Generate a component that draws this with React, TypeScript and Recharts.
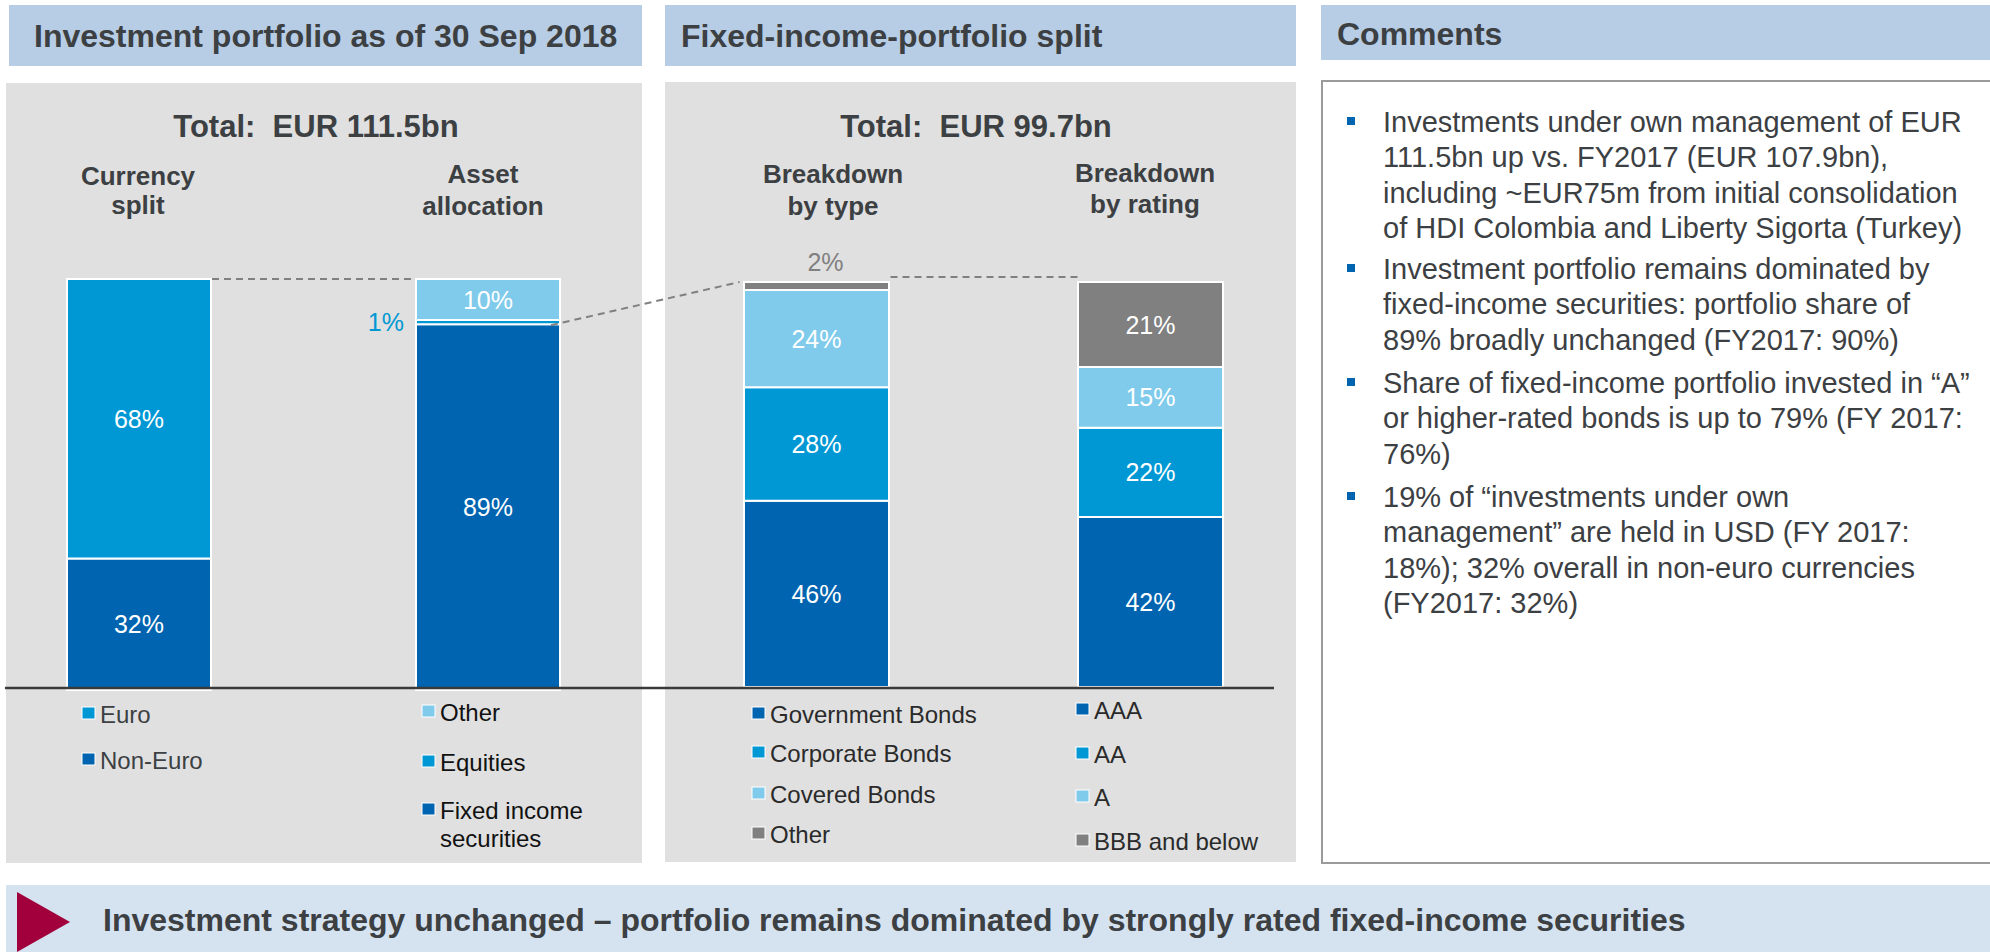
import React from 'react';
import { BarChart, Bar, XAxis, YAxis, LabelList } from 'recharts';

// categories (one stacked bar each)
const leftCategories = ['Currency split', 'Asset allocation'];
const rightCategories = ['Breakdown by type', 'Breakdown by rating'];

// stack layers listed bottom -> top, in %
const currencySplit = [32, 68]; // Non-Euro, Euro
const assetAllocation = [89, 1, 10]; // Fixed income, Equities, Other
const fixedIncomeByType = [46, 28, 24, 2]; // Government, Corporate, Covered, Other
const fixedIncomeByRating = [42, 22, 15, 21]; // AAA, AA, A, BBB and below

const totals = ['Total:  EUR 111.5bn', 'Total:  EUR 99.7bn'];

const currencyLegend = ['Euro', 'Non-Euro'];
const assetLegend = ['Other', 'Equities', 'Fixed income'];
const typeLegend = ['Government Bonds', 'Corporate Bonds', 'Covered Bonds', 'Other'];
const ratingLegend = ['AAA', 'AA', 'A', 'BBB and below'];

const layerColors = ['#0064b0', '#0098d4', '#80cbeb', '#808080'];
const layerKeys = ['l0', 'l1', 'l2', 'l3'];

const FONT = '"Liberation Sans", Arial, sans-serif';
const DARK = '#3c4043';

const toRows = (cats: string[], stacks: number[][]) =>
  cats.map((name, i) => {
    const row: any = { name };
    layerKeys.forEach((k, j) => (row[k] = stacks[i][j] ?? 0));
    return row;
  });

const leftData = toRows(leftCategories, [currencySplit, assetAllocation]);
const rightData = toRows(rightCategories, [fixedIncomeByType, fixedIncomeByRating]);

// chart geometry (page coords)
const c1 = { left: -36.5, band: 349, barSize: 144, top: 279, height: 411 };
const c2 = { left: 649, band: 334, barSize: 145, top: 282, height: 405 };
const PAD_TOP = 40;
const PAD_BOTTOM = 10;

const barLeft = (c: any, i: number) => c.left + c.band * i + (c.band - c.barSize) / 2;
const yAt = (c: any, v: number) => c.top + c.height * (1 - v / 100);
const sum = (a: number[], n: number) => a.slice(0, n).reduce((s, v) => s + v, 0);

const makeLabel = (layer: number) => (props: any) => {
  const { x, y, width, height, value } = props;
  if (!value) return null;
  const cx = x + width / 2;
  const cy = y + height / 2;
  if (value <= 2 && layer === 1) {
    // tiny equities slice: label to the left
    return (
      <text x={x - 12} y={cy} textAnchor="end" dominantBaseline="central" fill={layerColors[1]} fontSize={25} fontFamily={FONT}>
        {value}%
      </text>
    );
  }
  if (value <= 2) {
    return (
      <text x={cx + 9} y={y - 20} textAnchor="middle" dominantBaseline="central" fill="#808080" fontSize={25} fontFamily={FONT}>
        {value}%
      </text>
    );
  }
  return (
    <text x={cx} y={cy} textAnchor="middle" dominantBaseline="central" fill="#fff" fontSize={25} fontFamily={FONT}>
      {value}%
    </text>
  );
};

function StackChart({ data, c, layers }: { data: any[]; c: any; layers: number }) {
  return (
    <div style={{ position: 'absolute', left: c.left, top: c.top - PAD_TOP }}>
      <BarChart
        width={c.band * 2}
        height={c.height + PAD_TOP + PAD_BOTTOM}
        data={data}
        margin={{ top: PAD_TOP, right: 0, bottom: PAD_BOTTOM, left: 0 }}
        barSize={c.barSize}
      >
        <XAxis dataKey="name" hide />
        <YAxis hide domain={[0, 100]} />
        {layerKeys.slice(0, layers).map((k, j) => (
          <Bar key={k} dataKey={k} stackId="s" fill={layerColors[j]} stroke="#fff" strokeWidth={2} isAnimationActive={false}>
            <LabelList dataKey={k} content={makeLabel(j)} />
          </Bar>
        ))}
      </BarChart>
    </div>
  );
}

const T = (p: any) => <text fontFamily={FONT} fill={DARK} style={{ whiteSpace: 'pre' }} {...p} />;

function LegendItem({ x, y, color, label, fill }: any) {
  return (
    <g>
      <rect x={x} y={y - 16} width={13} height={12} fill={color} stroke="#fff" strokeWidth={1} />
      {label.map((l: string, i: number) => (
        <T key={i} x={x + 18} y={y + i * 28} fontSize={24} fill={fill}>
          {l}
        </T>
      ))}
    </g>
  );
}

const comments = [
  { y: 132, lines: ['Investments under own management of EUR', '111.5bn up vs. FY2017 (EUR 107.9bn),', 'including ~EUR75m from initial consolidation', 'of HDI Colombia and Liberty Sigorta (Turkey)'] },
  { y: 279, lines: ['Investment portfolio remains dominated by', 'fixed-income securities: portfolio share of', '89% broadly unchanged (FY2017: 90%)'] },
  { y: 393, lines: ['Share of fixed-income portfolio invested in \u201cA\u201d', 'or higher-rated bonds is up to 79% (FY 2017:', '76%)'] },
  { y: 507, lines: ['19% of \u201cinvestments under own', 'management\u201d are held in USD (FY 2017:', '18%); 32% overall in non-euro currencies', '(FY2017: 32%)'] },
];

export default function App() {
  const fiTop = yAt(c1, sum(assetAllocation, 1));
  return (
    <div style={{ position: 'absolute', left: 0, top: 0, width: 1990, height: 952, overflow: 'hidden', background: '#fff', fontFamily: FONT }}>
      <svg width={1990} height={952} style={{ position: 'absolute', left: 0, top: 0 }}>
        {/* headers */}
        <rect x={9} y={5} width={633} height={61} fill="#b7cde5" />
        <rect x={665} y={5} width={631} height={61} fill="#b7cde5" />
        <rect x={1321} y={5} width={669} height={55} fill="#b7cde5" />
        <T x={34} y={47} fontSize={32} fontWeight="bold">Investment portfolio as of 30 Sep 2018</T>
        <T x={681} y={47} fontSize={32} fontWeight="bold">Fixed-income-portfolio split</T>
        <T x={1337} y={45} fontSize={32} fontWeight="bold">Comments</T>

        {/* panels */}
        <rect x={6} y={83} width={636} height={780} fill="#e0e0e0" />
        <rect x={665} y={82} width={631} height={780} fill="#e0e0e0" />
        <path d="M1990,81 H1322 V863 H1990" fill="#fff" stroke="#9a9a9a" strokeWidth={2} />

        <T x={316} y={137} fontSize={31} fontWeight="bold" textAnchor="middle">{totals[0]}</T>
        <T x={976} y={137} fontSize={31} fontWeight="bold" textAnchor="middle">{totals[1]}</T>

        <T x={138} y={185} fontSize={26} fontWeight="bold" textAnchor="middle">Currency</T>
        <T x={138} y={214} fontSize={26} fontWeight="bold" textAnchor="middle">split</T>
        <T x={483} y={183} fontSize={26} fontWeight="bold" textAnchor="middle">Asset</T>
        <T x={483} y={215} fontSize={26} fontWeight="bold" textAnchor="middle">allocation</T>
        <T x={833} y={183} fontSize={26} fontWeight="bold" textAnchor="middle">Breakdown</T>
        <T x={833} y={215} fontSize={26} fontWeight="bold" textAnchor="middle">by type</T>
        <T x={1145} y={182} fontSize={26} fontWeight="bold" textAnchor="middle">Breakdown</T>
        <T x={1145} y={213} fontSize={26} fontWeight="bold" textAnchor="middle">by rating</T>

        {/* legends */}
        <LegendItem x={82} y={723} color={layerColors[1]} label={[currencyLegend[0]]} fill={DARK} />
        <LegendItem x={82} y={769} color={layerColors[0]} label={[currencyLegend[1]]} fill={DARK} />
        <LegendItem x={422} y={721} color={layerColors[2]} label={[assetLegend[0]]} fill="#111" />
        <LegendItem x={422} y={771} color={layerColors[1]} label={[assetLegend[1]]} fill="#111" />
        <LegendItem x={422} y={819} color={layerColors[0]} label={[assetLegend[2], 'securities']} fill="#111" />
        {typeLegend.map((l, i) => (
          <LegendItem key={l} x={752} y={[723, 762, 803, 843][i]} color={layerColors[i]} label={[l]} fill="#2a2a2a" />
        ))}
        {ratingLegend.map((l, i) => (
          <LegendItem key={l} x={1076} y={[719, 763, 806, 850][i]} color={layerColors[i]} label={[l]} fill="#2a2a2a" />
        ))}

        {/* comments */}
        {comments.map((b, i) => (
          <g key={i}>
            <rect x={1347} y={b.y - 15} width={8} height={8} fill="#0064b0" />
            {b.lines.map((l, j) => (
              <T key={j} x={1383} y={b.y + j * 35.3} fontSize={29}>{l}</T>
            ))}
          </g>
        ))}

        {/* bottom banner */}
        <rect x={6} y={885} width={1984} height={67} fill="#d5e3f1" />
        <polygon points="17,892 70,922 17,952" fill="#a1003c" />
        <T x={103} y={931} fontSize={32} fontWeight="bold">
          Investment strategy unchanged – portfolio remains dominated by strongly rated fixed-income securities
        </T>
      </svg>

      <StackChart data={leftData} c={c1} layers={3} />
      <StackChart data={rightData} c={c2} layers={4} />

      <svg width={1990} height={952} style={{ position: 'absolute', left: 0, top: 0, pointerEvents: 'none' }}>
        <g stroke="#808080" strokeWidth={2} strokeDasharray="7 5" fill="none">
          <line x1={barLeft(c1, 0) + c1.barSize + 2} y1={yAt(c1, 100)} x2={barLeft(c1, 1) - 4} y2={yAt(c1, 100)} />
          <line x1={barLeft(c1, 1) + c1.barSize - 8} y1={fiTop + 1} x2={barLeft(c2, 0) - 4} y2={yAt(c2, 100)} />
          <line x1={barLeft(c2, 0) + c2.barSize + 2} y1={yAt(c2, 100) - 5} x2={barLeft(c2, 1)} y2={yAt(c2, 100) - 5} />
        </g>
        <line x1={5} y1={688} x2={1274} y2={688} stroke="#3a3a3a" strokeWidth={2.5} />
      </svg>
    </div>
  );
}
